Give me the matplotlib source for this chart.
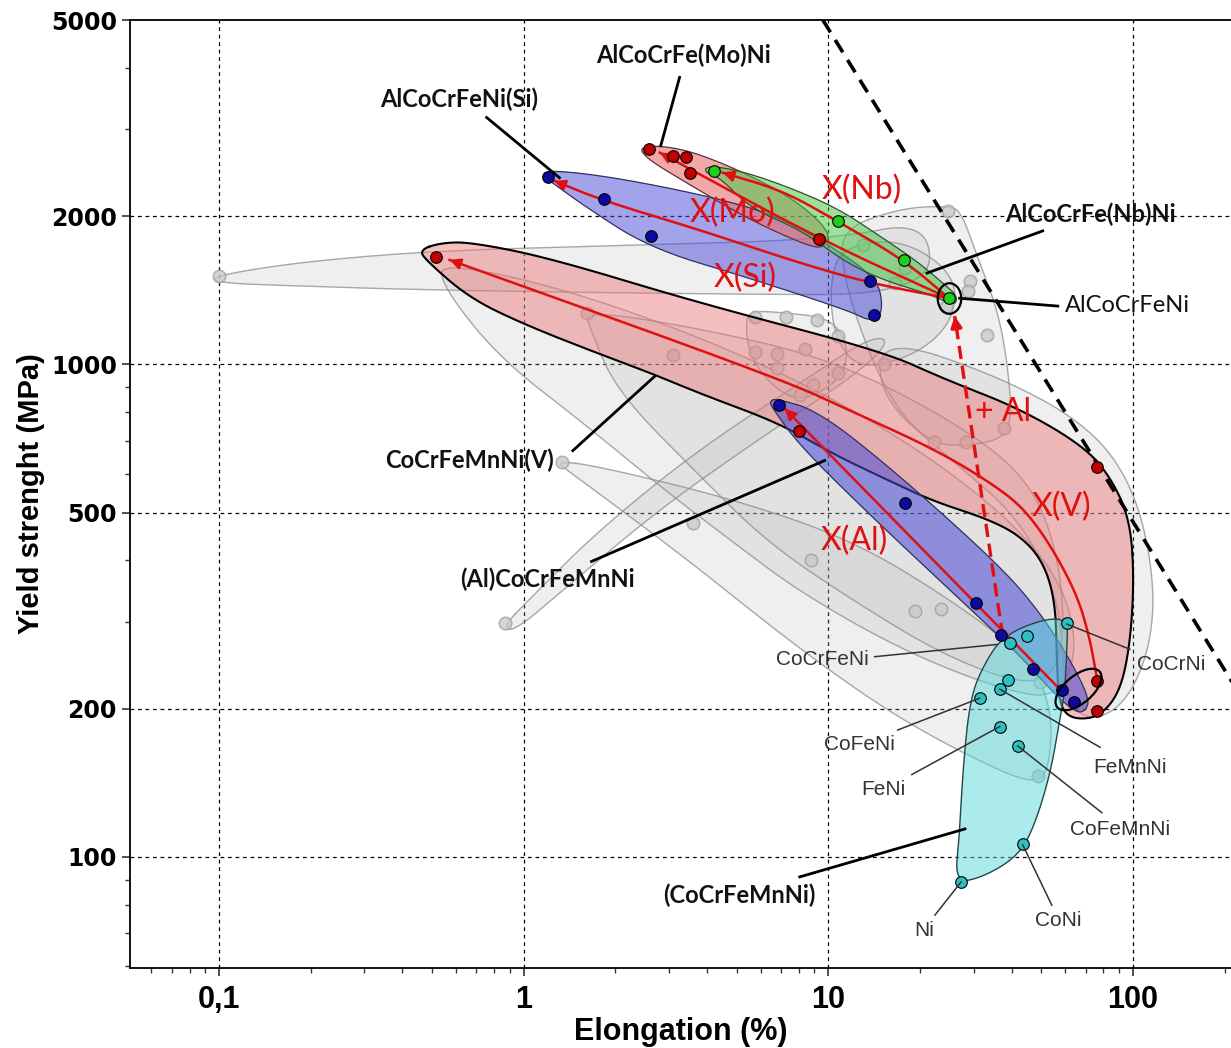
import numpy as np
import matplotlib
matplotlib.use("Agg")
import matplotlib.pyplot as plt
from matplotlib.path import Path
from matplotlib.transforms import Affine2D
from matplotlib.ticker import FixedLocator, FixedFormatter, NullFormatter

# ---------------- envelopes: (elongation %, yield strength MPa) ----------------
gray_envelopes = [
    [(0.0952, 1511), (0.184, 1613), (0.491, 1698), (1.78, 1739), (10.1, 1789), (21.5, 1964),
     (21.5, 1382), (3.78, 1389), (0.491, 1415), (0.184, 1442), (0.0989, 1462)],
    [(10.9, 1875), (17.2, 2075), (25.1, 2099), (27.4, 2030), (31.0, 1644), (35.8, 1300),
     (38.6, 1028), (40.1, 776), (37.4, 707), (29.2, 684), (22.4, 687), (17.8, 776),
     (14.8, 936), (12.7, 1184), (11.3, 1496)],
    [(0.53, 1629), (1.78, 1362), (8.06, 936), (25.1, 614), (53.4, 403), (66.9, 277),
     (57.6, 209), (36.6, 219), (17.2, 264), (8.06, 345), (4.86, 436), (2.95, 551),
     (1.61, 751), (0.834, 1028), (0.545, 1429)],
    [(0.853, 293), (1.046, 334), (1.78, 463), (3.78, 674), (8.06, 915), (12.7, 1104),
     (15.3, 1140), (15.3, 1078), (11.8, 936), (5.96, 707), (2.80, 509), (1.42, 358),
     (0.934, 287)],
    [(1.27, 638), (1.78, 620), (4.86, 533), (11.8, 442), (25.1, 334), (45.9, 252),
     (54.2, 200), (53.4, 154), (48.8, 141), (36.6, 149), (17.2, 190), (8.06, 264),
     (3.78, 384), (2.07, 509), (1.42, 603)],
    [(5.44, 1288), (7.47, 1270), (10.1, 1241), (11.6, 1104), (11.3, 959), (9.38, 873),
     (7.76, 845), (6.42, 915), (5.61, 1028), (5.36, 1156)],
    [(1.59, 1288), (3.78, 1184), (10.1, 1028), (25.1, 776), (45.9, 586), (57.6, 403),
     (59.8, 264), (49.5, 219), (25.1, 252), (11.8, 334), (6.28, 436), (3.78, 594),
     (2.02, 881), (1.65, 1184)],
    [(14.8, 1140), (36.6, 945), (72.3, 748), (101.5, 559), (118, 366), (114, 264),
     (94.2, 204), (72.3, 188), (59.8, 209), (57.6, 334), (42.6, 486), (25.1, 644),
     (14.8, 853)],
    [(10.9, 1722), (17.2, 1805), (26.0, 1532), (26.0, 1241), (20.0, 1053), (12.7, 972),
     (10.5, 1130), (10.1, 1429)],
]

env_v = [(0.455, 1706), (0.53, 1763), (0.665, 1772), (1.22, 1644), (3.78, 1331),
         (15.1, 1063), (23.8, 936), (42.6, 813), (68.5, 684), (84, 594), (97.8, 486),
         (101, 366), (97.8, 268), (90.6, 216), (78, 193), (65.5, 190), (58.9, 197),
         (56.7, 219), (56.3, 264), (55.4, 334), (50.6, 399), (42.6, 449), (33.2, 486),
         (22.0, 528), (15.6, 583), (10.3, 659), (6.93, 759), (3.78, 873), (2.73, 950),
         (1.82, 1043), (1.02, 1200), (0.665, 1362), (0.48, 1622)]
env_al = [(6.73, 853), (9.38, 802), (17.2, 594), (36.6, 390), (49.5, 314), (62.1, 252),
          (72.3, 209), (69.6, 197), (64.5, 197), (54.6, 216), (41.6, 260), (28.5, 323),
          (13.4, 501), (8.06, 684), (6.57, 813), (6.42, 841)]
env_base = [(61.2, 304), (50.6, 304), (37.4, 281), (32.2, 244), (29.2, 209), (27.7, 152),
            (27.0, 112), (26.0, 88.5), (32.2, 91), (41.6, 100), (47.0, 113.5), (53.4, 146),
            (57.6, 190), (59.8, 216), (60.7, 264)]
env_si = [(1.14, 2415), (1.22, 2483), (2.02, 2393), (4.30, 2178), (7.09, 1983), (11.8, 1644),
          (14.4, 1476), (15.0, 1362), (14.9, 1258), (13.7, 1223), (11.8, 1282), (5.52, 1496),
          (2.59, 1722), (1.56, 2108), (1.22, 2358)]
env_mo = [(2.40, 2782), (3.25, 2754), (4.75, 2529), (7.47, 2198), (10.1, 1875), (9.81, 1739),
          (8.9, 1722), (5.52, 1964), (3.51, 2315), (2.50, 2628)]
env_nb = [(3.99, 2529), (5.0, 2483), (7.09, 2315), (10.7, 2078), (15.1, 1805), (19.5, 1621),
          (23.8, 1462), (26.6, 1376), (26.0, 1313), (22.0, 1382), (15.1, 1483), (11.2, 1621),
          (8.25, 1866), (5.52, 2078), (4.42, 2393), (3.93, 2450)]

# ---------------- alloys ----------------
gray_x = [0.1, 1.62, 3.09, 5.74, 7.25, 9.17, 10.8, 5.74, 6.77, 8.37, 6.77, 10.8, 8.9, 8.06,
          1.34, 3.59, 22.2, 28.3, 37.7, 8.76, 19.2, 23.4, 49.5, 48.8, 24.7, 13.0, 29.2,
          28.7, 33.2, 16.5, 17.8, 24.3, 15.2, 0.866]
gray_y = [1511, 1270, 1043, 1247, 1247, 1229, 1140, 1057, 1048, 1073, 982, 959, 906, 865,
          634, 476, 697, 697, 741, 401, 316, 319, 227, 146, 2049, 1747, 1476, 1408, 1146,
          1462, 1569, 1306, 1000, 298]

v_x = [0.514, 76.2, 76.5, 76.5, 8.0]
v_y = [1652, 620, 228, 198, 734]
al_x = [6.88, 17.8, 30.5, 36.8, 47, 58.5, 64]
al_y = [825, 523, 327, 282, 241, 218, 206]
base_x = [60.7, 44.9, 39.4, 39.0, 36.6, 31.4, 36.6, 41.9, 43.5, 27.2]
base_y = [298, 281, 272, 229, 219, 210, 184, 168, 106, 89]
nb_x = [24.9, 17.7, 10.8, 4.21]
nb_y = [1362, 1629, 1956, 2472]
mo_x = [2.57, 3.09, 3.40, 3.51, 9.3]
mo_y = [2740, 2652, 2640, 2449, 1798]
si_x = [1.20, 1.83, 2.61, 13.7, 14.1]
si_y = [2404, 2167, 1823, 1475, 1258]

# alloying trends
path_v = [(76.5, 228), (72.3, 277), (65.9, 338), (54.6, 422), (44.9, 501), (36.6, 559),
          (23.2, 665), (12.0, 802), (6.93, 936), (0.571, 1629)]
path_al = [(57.6, 219), (7.2, 813)]
path_si = [(24.9, 1362), (13.7, 1462), (8.06, 1605), (3.78, 1875), (1.83, 2147), (1.26, 2358)]
path_mo = [(24.9, 1362), (9.3, 1798), (2.80, 2690)]
path_nb = [(24.9, 1362), (17.7, 1629), (10.8, 1947), (7.09, 2253), (4.5, 2449)]
path_plus_al = [(37.4, 281), (26.0, 1253)]

# strength-ductility limit (elongation x strength ~ const)
limit_x = [9.6, 220]
limit_y = [5000, 218]


def chaikin(pts, closed=True, n=4):
    p = np.log10(np.asarray(pts, float))
    for _ in range(n):
        q = np.roll(p, -1, axis=0) if closed else p[1:]
        a = p if closed else p[:-1]
        new = np.stack([0.75 * a + 0.25 * q, 0.25 * a + 0.75 * q], axis=1).reshape(-1, 2)
        p = new if closed else np.vstack([p[:1], new, p[-1:]])
    return 10 ** p


fig = plt.figure(figsize=(12.31, 10.48), dpi=100)
ax = fig.add_axes([0.1056, 0.0763, 0.8944, 0.9046])
ax.set_xscale("log")
ax.set_yscale("log")
ax.set_xlim(0.051, 210)
ax.set_ylim(59.5, 5000)


def envelope(pts, fc, alpha, ec, lw, z, ealpha=1.0):
    s = chaikin(pts)
    ax.fill(s[:, 0], s[:, 1], facecolor=fc, alpha=alpha, edgecolor="none", zorder=z)
    c = np.vstack([s, s[:1]])
    ax.plot(c[:, 0], c[:, 1], color=ec, lw=lw, alpha=ealpha, zorder=z + 0.1)


for g in gray_envelopes:
    envelope(g, "#b0b0b0", 0.2, "#8c8c8c", 1.0, 1, 0.75)

envelope(env_v, "#ec7a7a", 0.48, "black", 1.5, 3)
envelope(env_al, "#4848d8", 0.55, "#303060", 0.9, 3.5)
envelope(env_base, "#5ad8d8", 0.5, "#204848", 1.0, 3.6)
envelope(env_si, "#4848d8", 0.5, "#303060", 0.9, 3.7)
envelope(env_mo, "#e86e6e", 0.6, "#603030", 0.9, 3.8)
envelope(env_nb, "#4cc84c", 0.55, "#305030", 0.9, 3.9)

ax.scatter(gray_x, gray_y, s=80, facecolor="#c8c8c8", edgecolor="#a0a0a0",
           linewidths=1.2, alpha=0.75, zorder=2)

# trend arrows
red = "#e01010"


def trend(pts, smooth=True, ls="-", lw=1.8):
    s = chaikin(pts, closed=False, n=4) if smooth and len(pts) > 2 else np.asarray(pts, float)
    ax.plot(s[:, 0], s[:, 1], color=red, lw=lw, ls=ls, zorder=5)
    lx, ly = np.log10(s[-1])
    px, py = np.log10(s[-2]) if len(s) > 2 else np.log10(s[0])
    d = np.hypot(lx - px, ly - py)
    t = 0.03 / d
    start = 10 ** (lx - (lx - px) * t), 10 ** (ly - (ly - py) * t)
    ax.annotate("", xy=tuple(s[-1]), xytext=start,
                arrowprops=dict(arrowstyle="-|>", color=red, lw=lw, shrinkA=0, shrinkB=0,
                                mutation_scale=16), zorder=5)


trend(path_v)
trend(path_al, smooth=False)
trend(path_si)
trend(path_mo)
trend(path_nb)
trend(path_plus_al, smooth=False, ls=(0, (4, 2)), lw=2.4)

ax.plot(limit_x, limit_y, color="black", lw=2.6, ls=(0, (4, 2.5)), zorder=6)

# alloy markers
mk = dict(s=70, edgecolor="black", linewidths=0.8, zorder=7)
ax.scatter(v_x, v_y, facecolor="#c00000", **mk)
ax.scatter(al_x, al_y, facecolor="#0a0aa0", **mk)
ax.scatter(base_x, base_y, facecolor="#2cc0c0", **mk)
ax.scatter(si_x, si_y, facecolor="#0a0aa0", **mk)
ax.scatter(mo_x, mo_y, facecolor="#c00000", **mk)
ax.scatter(nb_x, nb_y, facecolor="#20cc20", **mk)

# outlines around the reference alloys
ell = Path.unit_circle().transformed(Affine2D().scale(0.77, 1.0))
ax.plot([nb_x[0]], [nb_y[0]], marker=ell, ms=22, mfc="none", mec="black", mew=1.6, zorder=8)
ell2 = Path.unit_circle().transformed(Affine2D().scale(1.0, 0.5).rotate_deg(40))
ax.plot([65.9], [219], marker=ell2, ms=34, mfc="none", mec="black", mew=1.6, zorder=8)

# labels
bold = dict(family=["Lato", "DejaVu Sans"], weight="bold", fontsize=17, color="#111111",
            ha="center", va="center", zorder=9)
small = dict(family=["Liberation Sans", "DejaVu Sans"], fontsize=15, color="#333333",
             ha="center", va="center", zorder=9)
redtxt = dict(family=["Lato", "DejaVu Sans"], fontsize=23, color=red,
              ha="center", va="center", zorder=9)

leaders_bold = [
    ("AlCoCrFe(Mo)Ni", (3.35, 4236), [(3.25, 3824), (2.82, 2782)]),
    ("AlCoCrFeNi(Si)", (0.616, 3449), [(0.756, 3170), (1.31, 2393)]),
    ("AlCoCrFe(Nb)Ni", (72.3, 2021), [(50.6, 1866), (21.1, 1532)]),
    ("CoCrFeMnNi(V)", (0.665, 638), [(1.45, 668), (2.69, 945)]),
    ("(Al)CoCrFeMnNi", (1.20, 366), [(1.67, 398), (9.74, 638)]),
    ("(CoCrFeMnNi)", (5.12, 83.7), [(8.06, 91.1), (28.1, 114)]),
]
for name, pos, seg in leaders_bold:
    ax.text(pos[0], pos[1], name, **bold)
    sx, sy = zip(*seg)
    ax.plot(sx, sy, color="black", lw=2.0, zorder=8)

ax.text(59.8, 1319, "AlCoCrFeNi", family=["Lato", "DejaVu Sans"], fontsize=17,
        color="#111111", ha="left", va="center", zorder=9)
ax.plot([56.7, 27.0], [1313, 1362], color="black", lw=2.0, zorder=8)

leaders_small = [
    ("CoCrFeNi", (9.59, 252), [(14.2, 255), (35.8, 270)]),
    ("CoCrNi", (134, 246), [(97.8, 264), (60.7, 297)]),
    ("CoFeNi", (12.7, 169), [(16.9, 181), (31.4, 210)]),
    ("FeNi", (15.2, 137), [(18.8, 147), (36.6, 184)]),
    ("FeMnNi", (97.8, 152), [(78, 167), (36.6, 219)]),
    ("CoFeMnNi", (90.6, 113.5), [(79.1, 123), (41.9, 168)]),
    ("Ni", (20.7, 71.0), [(22.4, 76.2), (27.3, 89)]),
    ("CoNi", (56.7, 74.4), [(54.2, 79.8), (43.5, 105.8)]),
]
for name, pos, seg in leaders_small:
    ax.text(pos[0], pos[1], name, **small)
    sx, sy = zip(*seg)
    ax.plot(sx, sy, color="#333333", lw=1.1, zorder=8)

trend_labels = [("X(Mo)", 4.86, 2030), ("X(Nb)", 12.9, 2262), ("X(Si)", 5.32, 1496),
                ("+ Al", 37.4, 802), ("X(V)", 58.5, 514), ("X(Al)", 12.2, 438)]
for t, x, y in trend_labels:
    ax.text(x, y, t, **redtxt)

# axes styling
ax.grid(False)
for v in [0.1, 1, 10, 100]:
    ax.axvline(v, color="black", lw=0.9, ls=(0, (3, 3)), zorder=0.5)
for v in [100, 200, 500, 1000, 2000]:
    ax.axhline(v, color="black", lw=0.9, ls=(0, (3, 3)), zorder=0.5)

ax.spines["right"].set_visible(False)
for s in ["left", "bottom", "top"]:
    ax.spines[s].set_linewidth(1.3)

ax.yaxis.set_major_locator(FixedLocator([100, 200, 500, 1000, 2000, 5000]))
ax.yaxis.set_major_formatter(FixedFormatter(["100", "200", "500", "1000", "2000", "5000"]))
ax.yaxis.set_minor_locator(FixedLocator([60, 70, 80, 90, 300, 400, 600, 700, 800, 900, 3000, 4000]))
ax.yaxis.set_minor_formatter(NullFormatter())
ax.xaxis.set_major_locator(FixedLocator([0.1, 1, 10, 100]))
ax.xaxis.set_major_formatter(FixedFormatter(["0,1", "1", "10", "100"]))
xminor = [m * 10.0 ** e for e in range(-2, 3) for m in range(2, 10)]
ax.xaxis.set_minor_locator(FixedLocator(xminor))
ax.xaxis.set_minor_formatter(NullFormatter())
ax.tick_params(which="major", direction="out", length=6, width=1.2, color="#333333")
ax.tick_params(which="minor", direction="out", length=3.5, width=1.0, color="#333333")
ax.tick_params(axis="x", which="major", pad=6)

for lab in ax.get_yticklabels():
    lab.set_fontfamily(["DejaVu Sans"])
    lab.set_fontweight("bold")
    lab.set_fontsize(17)
for lab in ax.get_xticklabels():
    lab.set_fontfamily(["Liberation Sans Narrow", "Liberation Sans"])
    lab.set_fontweight("bold")
    lab.set_fontsize(22)

ax.set_xlabel("Elongation (%)", family=["Liberation Sans Narrow", "Liberation Sans"],
              fontweight="bold", fontsize=22, labelpad=2)
ax.set_ylabel("Yield strenght (MPa)", family=["Liberation Sans Narrow", "Liberation Sans"],
              fontweight="bold", fontsize=21, labelpad=4)

fig.savefig("out.png", dpi=100)
